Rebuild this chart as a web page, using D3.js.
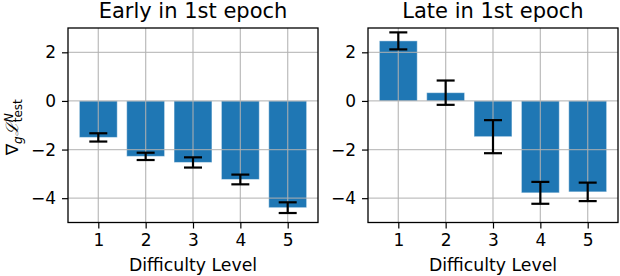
<!DOCTYPE html>
<html>
<head>
<meta charset="utf-8">
<script src="https://cdn.jsdelivr.net/npm/d3@7"></script>
<style>
  body { margin: 0; background: #fff; }
  text { font-family: "DejaVu Sans", sans-serif; fill: #000; }
</style>
</head>
<body>
<svg id="chart" width="620" height="276"></svg>
<script>
// difficulty levels and values
var levels = [1, 2, 3, 4, 5];
var earlyMeans = [-1.5, -2.28, -2.53, -3.23, -4.39];
var earlyErrs = [0.17, 0.15, 0.21, 0.2, 0.22];
var lateMeans = [2.47, 0.34, -1.47, -3.78, -3.74];
var lateErrs = [0.35, 0.5, 0.68, 0.45, 0.38];
var yTicks = [-4, -2, 0, 2];
var titles = ["Early in 1st epoch", "Late in 1st epoch"];

var svg = d3.select("#chart");
var plotTop = 28, plotBottom = 222.5;
var barColor = "#1f77b4";

var y = d3.scaleLinear().domain([-5, 3]).range([plotBottom, plotTop]);

function drawPanel(left, right, title, means, errs) {
  var x = d3.scaleLinear().domain([0.36, 5.64]).range([left, right]);
  var g = svg.append("g");
  var bw = x(0.8) - x(0);

  //bars
  g.selectAll("rect.bar").data(means).enter().append("rect")
    .attr("class", "bar")
    .attr("x", function(d, i) { return x(levels[i]) - bw / 2; })
    .attr("width", bw)
    .attr("y", function(d) { return y(Math.max(0, d)); })
    .attr("height", function(d) { return Math.abs(y(d) - y(0)); })
    .attr("fill", barColor)
    .attr("stroke", "#ffffff").attr("stroke-opacity", 0.45).attr("stroke-width", 1);

  //grid (over the bars)
  g.selectAll("line.vg").data(levels).enter().append("line")
    .attr("x1", function(d) { return x(d); }).attr("x2", function(d) { return x(d); })
    .attr("y1", plotTop).attr("y2", plotBottom)
    .attr("stroke", "#b0b0b0").attr("stroke-opacity", 0.8).attr("stroke-width", 1.3);
  g.selectAll("line.hg").data(yTicks).enter().append("line")
    .attr("x1", left).attr("x2", right)
    .attr("y1", function(d) { return y(d); }).attr("y2", function(d) { return y(d); })
    .attr("stroke", "#b0b0b0").attr("stroke-opacity", 0.8).attr("stroke-width", 1.3);

  //error bars
  var eb = g.selectAll("g.err").data(means).enter().append("g");
  eb.append("line")
    .attr("x1", function(d, i) { return x(levels[i]); })
    .attr("x2", function(d, i) { return x(levels[i]); })
    .attr("y1", function(d, i) { return y(d + errs[i]); })
    .attr("y2", function(d, i) { return y(d - errs[i]); })
    .attr("stroke", "#000").attr("stroke-width", 2.2);
  [1, -1].forEach(function(s) {
    eb.append("line")
      .attr("x1", function(d, i) { return x(levels[i]) - 9; })
      .attr("x2", function(d, i) { return x(levels[i]) + 9; })
      .attr("y1", function(d, i) { return y(d + s * errs[i]); })
      .attr("y2", function(d, i) { return y(d + s * errs[i]); })
      .attr("stroke", "#000").attr("stroke-width", 2.2);
  });

  //axes
  var xAxis = d3.axisBottom(x).tickValues(levels).tickSize(6).tickPadding(5).tickFormat(d3.format("d"));
  var yAxis = d3.axisLeft(y).tickValues(yTicks).tickSize(6).tickPadding(6)
    .tickFormat(function(d) { return d < 0 ? "\u2212" + (-d) : d; });
  var gx = g.append("g").attr("transform", "translate(0," + plotBottom + ")").call(xAxis);
  var gy = g.append("g").attr("transform", "translate(" + left + ",0)").call(yAxis);
  [gx, gy].forEach(function(a) {
    a.select(".domain").remove();
    a.selectAll("line").attr("stroke", "#000").attr("stroke-width", 1.2);
    a.selectAll("text").style("font-size", "17px").style("font-family", "DejaVu Sans").attr("fill", "#000");
  });

  //frame
  g.append("rect").attr("x", left).attr("y", plotTop)
    .attr("width", right - left).attr("height", plotBottom - plotTop)
    .attr("fill", "none").attr("stroke", "#000").attr("stroke-width", 1.3);

  g.append("text").attr("x", (left + right) / 2).attr("y", 18)
    .attr("text-anchor", "middle").style("font-size", "21px").text(title);
  g.append("text").attr("x", (left + right) / 2).attr("y", 270.5)
    .attr("text-anchor", "middle").style("font-size", "17.3px").text("Difficulty Level");
}

drawPanel(68, 318, titles[0], earlyMeans, earlyErrs);
drawPanel(368, 618, titles[1], lateMeans, lateErrs);

// y label: nabla_g L^N_test
var yl = svg.append("text")
  .attr("transform", "translate(18," + ((plotTop + plotBottom) / 2 + 30) + ") rotate(-90)")
  .style("font-size", "17px");
yl.append("tspan").text("\u2207");
yl.append("tspan").attr("dy", 4).style("font-size", "12px").style("font-style", "italic").text("g");
yl.append("tspan").attr("dy", -4).style("font-style", "italic").style("font-family", "DejaVu Serif").text("\u2112");
yl.append("tspan").attr("dy", -5).style("font-size", "12px").style("font-style", "italic").text("N");
yl.append("tspan").attr("dx", -9).attr("dy", 8.5).style("font-size", "12px").text("test");
</script>
</body>
</html>
